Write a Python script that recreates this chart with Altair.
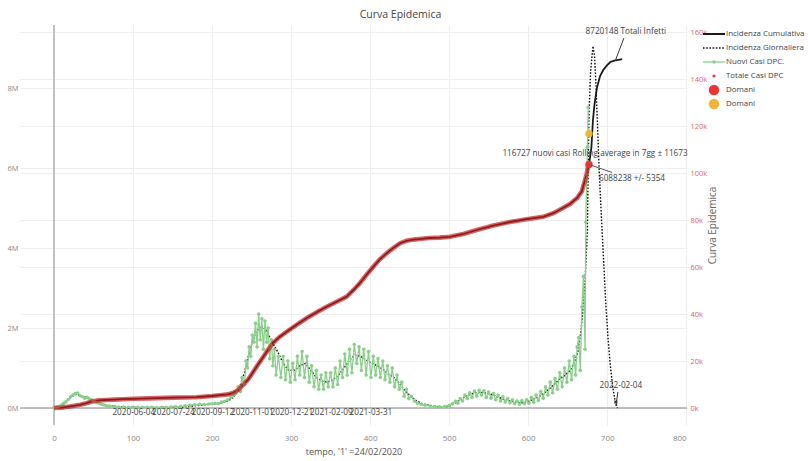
import altair as alt
import pandas as pd

FONT = "Open Sans"

# ---------------- data (day 0 = 24/02/2020) ----------------
# Totale Casi DPC: cumulative confirmed cases
tot_days = [0, 10, 20, 27, 33, 41, 49, 57, 65, 76, 87, 100, 120, 151, 180, 200, 210, 220,
            227, 233, 239, 246, 252, 258, 265, 271, 277, 285, 294, 307, 320, 332, 345, 357,
            370, 379, 387, 395, 404, 412, 421, 430, 438, 446, 455, 465, 475, 488, 501, 518,
            535, 556, 577, 598, 619, 632, 644, 653, 662, 668, 672, 674, 676]
tot_cases = [0, 10000, 40000, 60000, 80000, 120000, 170000, 190000, 200000, 210000, 220000,
             230000, 240000, 260000, 270000, 300000, 320000, 340000, 380000, 450000, 570000,
             720000, 900000, 1080000, 1280000, 1460000, 1620000, 1770000, 1900000, 2080000,
             2250000, 2390000, 2530000, 2650000, 2780000, 2950000, 3120000, 3320000, 3530000,
             3710000, 3870000, 4010000, 4120000, 4180000, 4210000, 4230000, 4250000, 4260000,
             4280000, 4350000, 4450000, 4560000, 4650000, 4720000, 4780000, 4870000, 5000000,
             5100000, 5250000, 5420000, 5700000, 5850000, 6050000]

# Incidenza Cumulativa: model continuation after the last observed day
proj_days = [677, 680, 682, 684, 687, 691, 695, 700, 704, 710, 716, 719]
proj_cases = [6088238, 6500000, 7200000, 7600000, 8000000, 8300000, 8450000, 8570000,
              8650000, 8690000, 8710000, 8720148]

# Nuovi Casi DPC.: daily new cases
new_days = [0, 3, 6, 9, 12, 15, 18, 21, 24, 27, 30, 33, 36, 39, 42, 45, 48, 51, 54, 57, 60, 63, 66, 70,
            76, 82, 88, 94, 100, 106, 112, 118, 124, 130, 136, 142, 148, 154, 160, 166, 172, 178,
            184, 190, 196, 200, 204, 208, 212, 216, 220, 224, 227, 230,
            233, 236, 238, 241, 243, 245, 247, 249, 251, 253, 255, 257, 259, 261, 263, 265, 267,
            269, 271, 273, 275, 277, 279, 281, 284, 287, 290, 293, 296, 299, 302, 305, 308, 311,
            314, 317, 320, 323, 326, 329, 332, 335, 338, 341, 344, 347, 350, 353, 356, 359, 362,
            365, 368, 371, 374, 377, 380, 383, 386, 389, 392, 395, 398, 401, 404, 407, 410, 413,
            416, 419, 422, 425, 428, 431, 434, 437, 440, 443, 446, 449, 452,
            456, 460, 465, 470, 476, 482, 488, 494, 500, 504, 508, 511, 514, 517, 520, 523, 526,
            529, 532, 535, 538, 541, 544, 547, 550, 553, 556, 559, 562, 565, 568, 571, 574, 577,
            580, 583, 586, 589, 592, 595, 598, 601, 604, 607, 610, 613, 616, 619, 622, 625, 628,
            631, 634, 637, 640, 643, 646, 649, 652, 655, 658, 660, 662, 664, 666, 668, 670, 672,
            673, 674, 675, 676]
new_cases = [200, 300, 600, 1200, 2000, 2600, 3600, 4800, 5500, 6200, 6400, 5200, 4800, 4200, 4600,
             3800, 3400, 2700, 2300, 2000, 1600, 1400, 1000, 800,
             600, 400, 350, 300, 250, 300, 200, 250, 300, 200, 300, 300, 400, 500, 600, 900, 1200,
             1400, 1600, 1500, 1700, 1800, 2000, 1800, 2500, 2800, 3500, 4500, 5500, 6200,
             9000, 7000, 13000, 10000, 20000, 17000, 26000, 22000, 31000, 28000, 36000, 26000,
             40000, 29000, 38000, 25000, 37000, 28000, 34000, 21000, 29000, 18000, 25000, 14000,
             22000, 13000, 22000, 12000, 20000, 11000, 19000, 12000, 22000, 14000, 24000, 13000,
             22000, 11000, 18000, 9000, 16000, 8000, 14000, 8000, 15000, 9000, 15000, 9000, 17000,
             10000, 20000, 13000, 23000, 14000, 25000, 15000, 27000, 19000, 26000, 16000, 25000,
             14000, 24000, 13000, 22000, 14000, 21000, 13000, 20000, 12000, 18000, 11000, 17000,
             9000, 14000, 8000, 11000, 5000, 8000, 4000, 5000,
             3000, 2000, 1500, 1200, 800, 600, 500, 600, 1000, 1800, 2800, 2000, 4000, 3000, 5500,
             4000, 6500, 4500, 7200, 5000, 7500, 5500, 7300, 4500, 6800, 4200, 6200, 3500, 5500,
             3000, 4800, 2600, 4000, 2200, 3500, 1800, 3000, 1600, 3200, 1800, 3500, 2000, 4500,
             2500, 5500, 3200, 7000, 4200, 9000, 5500, 11000, 6500, 12500, 8000, 15000, 9000,
             17000, 11000, 20000, 12000, 22000, 14000, 26000, 30000, 16000, 43000, 56000, 25000,
             79000, 97000, 111000, 128000]

# Incidenza Giornaliera: smoothed daily incidence and its projection
avg_days = [0, 7, 14, 21, 28, 35, 42, 49, 56, 63, 70, 80, 90, 100, 120, 140, 160, 175, 190, 200,
            210, 220, 227, 234, 241, 248, 255, 262, 269, 276, 283, 290, 297, 304, 311, 318, 325,
            332, 339, 346, 353, 360, 367, 374, 381, 388, 395, 402, 409, 416, 423, 430, 437, 444,
            451, 458, 465, 472, 479, 486, 493, 500, 507, 514, 521, 528, 535, 542, 549, 556, 563,
            570, 577, 584, 591, 598, 605, 612, 619, 626, 633, 640, 647, 653, 658, 663, 667, 670,
            672, 675, 676, 677, 679, 682, 684, 686, 688, 690, 692, 695, 698, 701, 704, 707, 710, 713]
avg_cases = [0, 500, 2000, 4500, 5800, 5000, 4300, 3200, 2200, 1500, 1000, 600, 400, 300, 250, 300,
             400, 800, 1400, 1600, 2000, 3000, 4500, 8000, 15000, 25000, 32000, 35000, 33000, 28000,
             24000, 19000, 16000, 16000, 18000, 19000, 16000, 13000, 11500, 11000, 12000, 14000,
             17000, 20500, 22500, 22000, 20500, 19000, 18000, 16500, 14500, 13000, 10500, 7500,
             5000, 3200, 2000, 1300, 900, 600, 500, 800, 2000, 3500, 5000, 6000, 6500, 6600, 6200,
             5500, 4500, 3600, 3000, 2500, 2200, 2500, 3500, 4500, 6000, 8000, 10000, 12500, 14000,
             16000, 19000, 24000, 33000, 45000, 54000, 76000, 104000, 125000, 143000, 154000,
             150000, 136000, 118000, 100000, 86000, 66000, 46000, 30000, 18000, 9000, 3000, 0]

# dates written along the time axis
date_days = [101, 151, 201, 251, 301, 351, 401]
date_labels = ["2020-06-04", "2020-07-24", "2020-09-12", "2020-11-01",
               "2020-12-21", "2021-02-09", "2021-03-31"]

# forecast for tomorrow
tomorrow_day = 677
tomorrow_total = 6088238
tomorrow_total_err = 5354
tomorrow_new = 116727
tomorrow_new_err = 11673
final_total = 8720148
end_day = 711
end_label = "2022-02-04"

legend_labels = ["Incidenza Cumulativa", "Incidenza Giornaliera", "Nuovi Casi DPC.",
                 "Totale Casi DPC", "Domani", "Domani"]

# ---------------- tables ----------------
total_df = pd.DataFrame({"day": tot_days, "cases": tot_cases})
model_df = pd.DataFrame({"day": tot_days + proj_days, "cases": tot_cases + proj_cases})
new_df = pd.DataFrame({"day": new_days, "cases": new_cases})
avg_df = pd.DataFrame({"day": avg_days, "cases": avg_cases})
dates_df = pd.DataFrame({"day": date_days, "label": date_labels})
one = pd.DataFrame({"k": [0]})
legend_df = pd.DataFrame({"row": list(range(len(legend_labels))), "label": legend_labels})

# ---------------- scales and axes ----------------
x_scale = alt.Scale(domain=[-43, 801], nice=False, zero=False)
x_axis = alt.Axis(values=list(range(0, 801, 100)), grid=True, gridColor="#eeeeee",
                  domain=False, ticks=False, labelFont=FONT, labelFontSize=8,
                  labelColor="#888888", labelPadding=9,
                  title="tempo, '1' =24/02/2020", titleFont=FONT, titleFontSize=9,
                  titleFontWeight="normal", titleColor="#555555", titlePadding=5)

left_domain = [-425000, 9575000]
right_domain = [-7234, 162979]

left_axis = alt.Axis(orient="left", values=[0, 2000000, 4000000, 6000000, 8000000],
                     format="~s", grid=True, gridColor="#eeeeee", domain=False, ticks=False,
                     labelFont=FONT, labelFontSize=7.5, labelColor="#888888", labelPadding=2,
                     title=None)
right_axis = alt.Axis(orient="right", values=list(range(0, 160001, 20000)), format="~s",
                      grid=True, gridColor="#eeeeee", domain=False, ticks=False,
                      labelFont=FONT, labelFontSize=7.5, labelColor="#e06262", labelPadding=3,
                      title="Curva Epidemica", titleFont=FONT, titleFontSize=10,
                      titleFontWeight="normal", titleColor="#666666", titlePadding=11,
                      titleAngle=270, titleBaseline="bottom")


def X(field):
    return alt.X(field, type="quantitative", scale=x_scale, axis=x_axis)


def XD(v):
    return alt.XDatum(v, type="quantitative", scale=x_scale, axis=x_axis)


def YL(field, axis=None):
    return alt.Y(field, type="quantitative", scale=alt.Scale(domain=left_domain, nice=False, zero=False), axis=axis)


def YLD(v, axis=None):
    return alt.YDatum(v, type="quantitative", scale=alt.Scale(domain=left_domain, nice=False, zero=False), axis=axis)


def YR(field, axis=None):
    return alt.Y(field, type="quantitative", scale=alt.Scale(domain=right_domain, nice=False, zero=False), axis=axis)


def YRD(v, axis=None):
    return alt.YDatum(v, type="quantitative", scale=alt.Scale(domain=right_domain, nice=False, zero=False), axis=axis)


text_style = dict(font=FONT, fontSize=8.2, color="#444444")

# ---------------- layers ----------------
zero_h = alt.Chart(one).mark_rule(color="#aaaaaa", strokeWidth=1.6).encode(y=YLD(0, left_axis))
zero_v = alt.Chart(one).mark_rule(color="#b5b5b5", strokeWidth=1.6).encode(x=XD(0))

model_line = alt.Chart(model_df).mark_line(color="#1a1a1a", strokeWidth=1.8).encode(
    x=X("day"), y=YL("cases"))

avg_line = alt.Chart(avg_df).mark_line(color="#111111", strokeWidth=1.4, strokeDash=[1.6, 1.6]).encode(
    x=X("day"), y=YR("cases", right_axis))

new_line = alt.Chart(new_df).mark_line(
    color="#8ad08a", strokeWidth=1.3,
    point=alt.OverlayMarkDef(filled=True, size=13, color="#8ad08a")).encode(
    x=X("day"), y=YR("cases"))

total_band = alt.Chart(total_df).mark_line(color="#c41c1c", strokeWidth=4.6, opacity=0.68).encode(
    x=X("day"), y=YL("cases"))

red_pt = alt.Chart(one).mark_circle(color="#ee3333", size=55, opacity=1).encode(
    x=XD(tomorrow_day), y=YLD(tomorrow_total))
orange_pt = alt.Chart(one).mark_circle(color="#f5b335", size=55, opacity=1).encode(
    x=XD(tomorrow_day), y=YRD(tomorrow_new))

dates_txt = alt.Chart(dates_df).mark_text(baseline="top", dy=1, align="center", **text_style).encode(
    x=X("day"), y=YLD(0), text="label:N")

total_txt = alt.Chart(one).mark_text(dx=43, dy=15, align="center", **text_style).encode(
    x=XD(tomorrow_day), y=YLD(tomorrow_total),
    text=alt.value(f"{tomorrow_total} +/- {tomorrow_total_err}"))
total_arrow = alt.Chart(one).mark_rule(color="#555555", strokeWidth=1, x2Offset=23, y2Offset=8).encode(
    x=XD(tomorrow_day), x2=alt.X2Datum(tomorrow_day),
    y=YLD(tomorrow_total), y2=alt.Y2Datum(tomorrow_total))

new_txt = alt.Chart(one).mark_text(dx=6, dy=20, align="center", **text_style).encode(
    x=XD(tomorrow_day), y=YRD(tomorrow_new),
    text=alt.value(f"{tomorrow_new} nuovi casi Rolling average in 7gg \u00b1 {tomorrow_new_err}"))

final_txt = alt.Chart(one).mark_text(dx=10, dy=-27, align="center", **text_style).encode(
    x=XD(end_day), y=YLD(final_total), text=alt.value(f"{final_total}   Totali Infetti"))
final_arrow = alt.Chart(one).mark_rule(color="#333333", strokeWidth=1, x2Offset=8, y2Offset=-21).encode(
    x=XD(end_day), x2=alt.X2Datum(end_day), y=YLD(final_total), y2=alt.Y2Datum(final_total))

end_txt = alt.Chart(one).mark_text(dx=5, dy=-22, align="center", **text_style).encode(
    x=XD(end_day), y=YLD(0), text=alt.value(end_label))
end_arrow = alt.Chart(one).mark_rule(color="#333333", strokeWidth=1, yOffset=-2, x2Offset=2, y2Offset=-16).encode(
    x=XD(end_day), x2=alt.X2Datum(end_day), y=YLD(0), y2=alt.Y2Datum(0))
end_head = alt.Chart(one).mark_point(shape="cross", angle=45, size=18, filled=True, color="#333333",
                                     yOffset=-6).encode(x=XD(end_day), y=YLD(0))

# legend, drawn to the right of the plot
leg_y = alt.Y("row:Q", scale=alt.Scale(domain=[0, 5], range=[9, 79]), axis=None)
leg_base = alt.Chart(legend_df)
leg_cum = leg_base.transform_filter("datum.row == 0").mark_rule(color="#1a1a1a", strokeWidth=2).encode(
    x=alt.value(683), x2=alt.value(705), y=leg_y)
leg_day = leg_base.transform_filter("datum.row == 1").mark_rule(
    color="#111111", strokeWidth=1.6, strokeDash=[1.6, 1.6]).encode(x=alt.value(683), x2=alt.value(705), y=leg_y)
leg_new = leg_base.transform_filter("datum.row == 2").mark_rule(color="#8ad08a", strokeWidth=1.3).encode(
    x=alt.value(683), x2=alt.value(705), y=leg_y)
leg_new_pt = leg_base.transform_filter("datum.row == 2").mark_circle(color="#8ad08a", size=13, opacity=1).encode(
    x=alt.value(694), y=leg_y)
leg_tot_pt = leg_base.transform_filter("datum.row == 3").mark_circle(color="#ee3333", size=10, opacity=1).encode(
    x=alt.value(694), y=leg_y)
leg_red = leg_base.transform_filter("datum.row == 4").mark_circle(color="#ee3333", size=110, opacity=1).encode(
    x=alt.value(694), y=leg_y)
leg_orange = leg_base.transform_filter("datum.row == 5").mark_circle(color="#f5b335", size=110, opacity=1).encode(
    x=alt.value(694), y=leg_y)
leg_txt = leg_base.mark_text(align="left", baseline="middle", font=FONT, fontSize=7.9, color="#444444").encode(
    x=alt.value(706), y=leg_y, text="label:N")

chart = alt.layer(
    zero_h, zero_v, model_line, avg_line, new_line, total_band, red_pt, orange_pt,
    dates_txt, total_arrow, total_txt, new_txt, final_arrow, final_txt,
    end_arrow, end_head, end_txt,
    leg_cum, leg_day, leg_new, leg_new_pt, leg_tot_pt, leg_red, leg_orange, leg_txt,
).resolve_scale(y="independent").properties(
    width=667,
    height=400,
    title=alt.TitleParams("Curva Epidemica", font=FONT, fontSize=10.5, fontWeight="normal",
                          color="#444444", anchor="middle", dx=47),
    autosize=alt.AutoSizeParams(type="none"),
    padding={"left": 20, "top": 25, "right": 121, "bottom": 36},
    background="white",
).configure_view(stroke=None)

chart.save("out.html", embed_options={"renderer": "svg", "actions": False})
